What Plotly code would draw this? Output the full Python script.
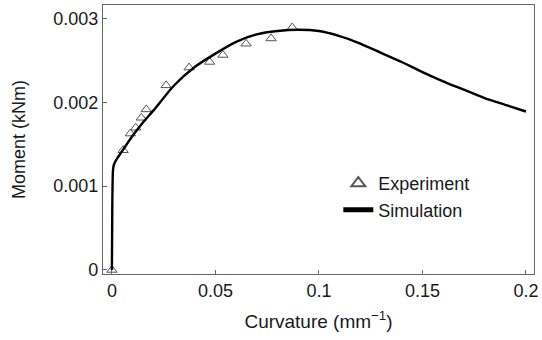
import plotly.graph_objects as go

# Experiment data (curvature in mm^-1, moment in kNm)
exp_x = [0.0, 0.0054, 0.0089, 0.0115, 0.0142, 0.0166, 0.0262, 0.0373, 0.0472, 0.0536, 0.0648, 0.0769, 0.0871]
exp_y = [0.0, 0.001428, 0.001627, 0.001696, 0.001815, 0.001915, 0.002202, 0.002414, 0.002481, 0.002564, 0.002698, 0.002761, 0.002892]

# Simulation curve
sim_x = [0.0, 0.0002, 0.0005, 0.0009, 0.002, 0.005, 0.01, 0.015, 0.02, 0.03, 0.04, 0.05, 0.06,
         0.07, 0.08, 0.09, 0.10, 0.11, 0.12, 0.13, 0.14, 0.15, 0.16, 0.17, 0.18, 0.19, 0.20]
sim_y = [0.0, 0.00080, 0.00118, 0.00125, 0.00131, 0.00142, 0.00160, 0.00176, 0.00190, 0.00220,
         0.00242, 0.00258, 0.00272, 0.00281, 0.00285, 0.002865, 0.00285, 0.00279, 0.00270,
         0.00259, 0.00248, 0.00236, 0.00225, 0.00215, 0.00205, 0.00197, 0.00189]

x_ticks = [0, 0.05, 0.1, 0.15, 0.2]
x_labels = ["0", "0.05", "0.1", "0.15", "0.2"]
y_ticks = [0, 0.001, 0.002, 0.003]
y_labels = ["0", "0.001", "0.002", "0.003"]

FONT = "Liberation Sans, Arial, sans-serif"
FS = 18
TXT = "#1a1a1a"

fig = go.Figure()
fig.add_trace(go.Scatter(
    x=exp_x, y=exp_y, mode="markers", name="Experiment",
    marker=dict(symbol="triangle-up-open", size=9, color="#555555", line=dict(width=1)),
))
fig.add_trace(go.Scatter(
    x=sim_x, y=sim_y, mode="lines", name="Simulation",
    line=dict(color="black", width=2.4, shape="spline", smoothing=0.6),
))

axis_common = dict(
    showgrid=False, zeroline=False, showline=True, linecolor="#666666", linewidth=1.2,
    mirror=True, ticks="inside", ticklen=4, tickcolor="#666666", tickwidth=1,
    tickfont=dict(family=FONT, size=FS, color=TXT),
)

fig.update_layout(
    width=542, height=340,
    margin=dict(l=103, r=4, t=5, b=66),
    paper_bgcolor="white", plot_bgcolor="white",
    font=dict(family=FONT, size=FS, color=TXT),
    showlegend=True,
    legend=dict(x=0.546, y=0.405, xanchor="left", yanchor="top",
                bgcolor="rgba(0,0,0,0)", font=dict(family=FONT, size=FS, color=TXT),
                tracegroupgap=0, itemsizing="constant"),
    xaxis=dict(range=[-0.0043, 0.2039], tickvals=x_ticks, ticktext=x_labels,
               ticklabeloverflow="allow",
               title=dict(text="Curvature (mm<sup>\u22121</sup>)", standoff=14,
                          font=dict(family=FONT, size=19, color=TXT)),
               **axis_common),
    yaxis=dict(range=[-0.000048, 0.00316], tickvals=y_ticks, ticktext=y_labels,
               title=dict(text="Moment (kNm)", standoff=22,
                          font=dict(family=FONT, size=FS, color=TXT)),
               **axis_common),
)

fig.write_html("out.html")
